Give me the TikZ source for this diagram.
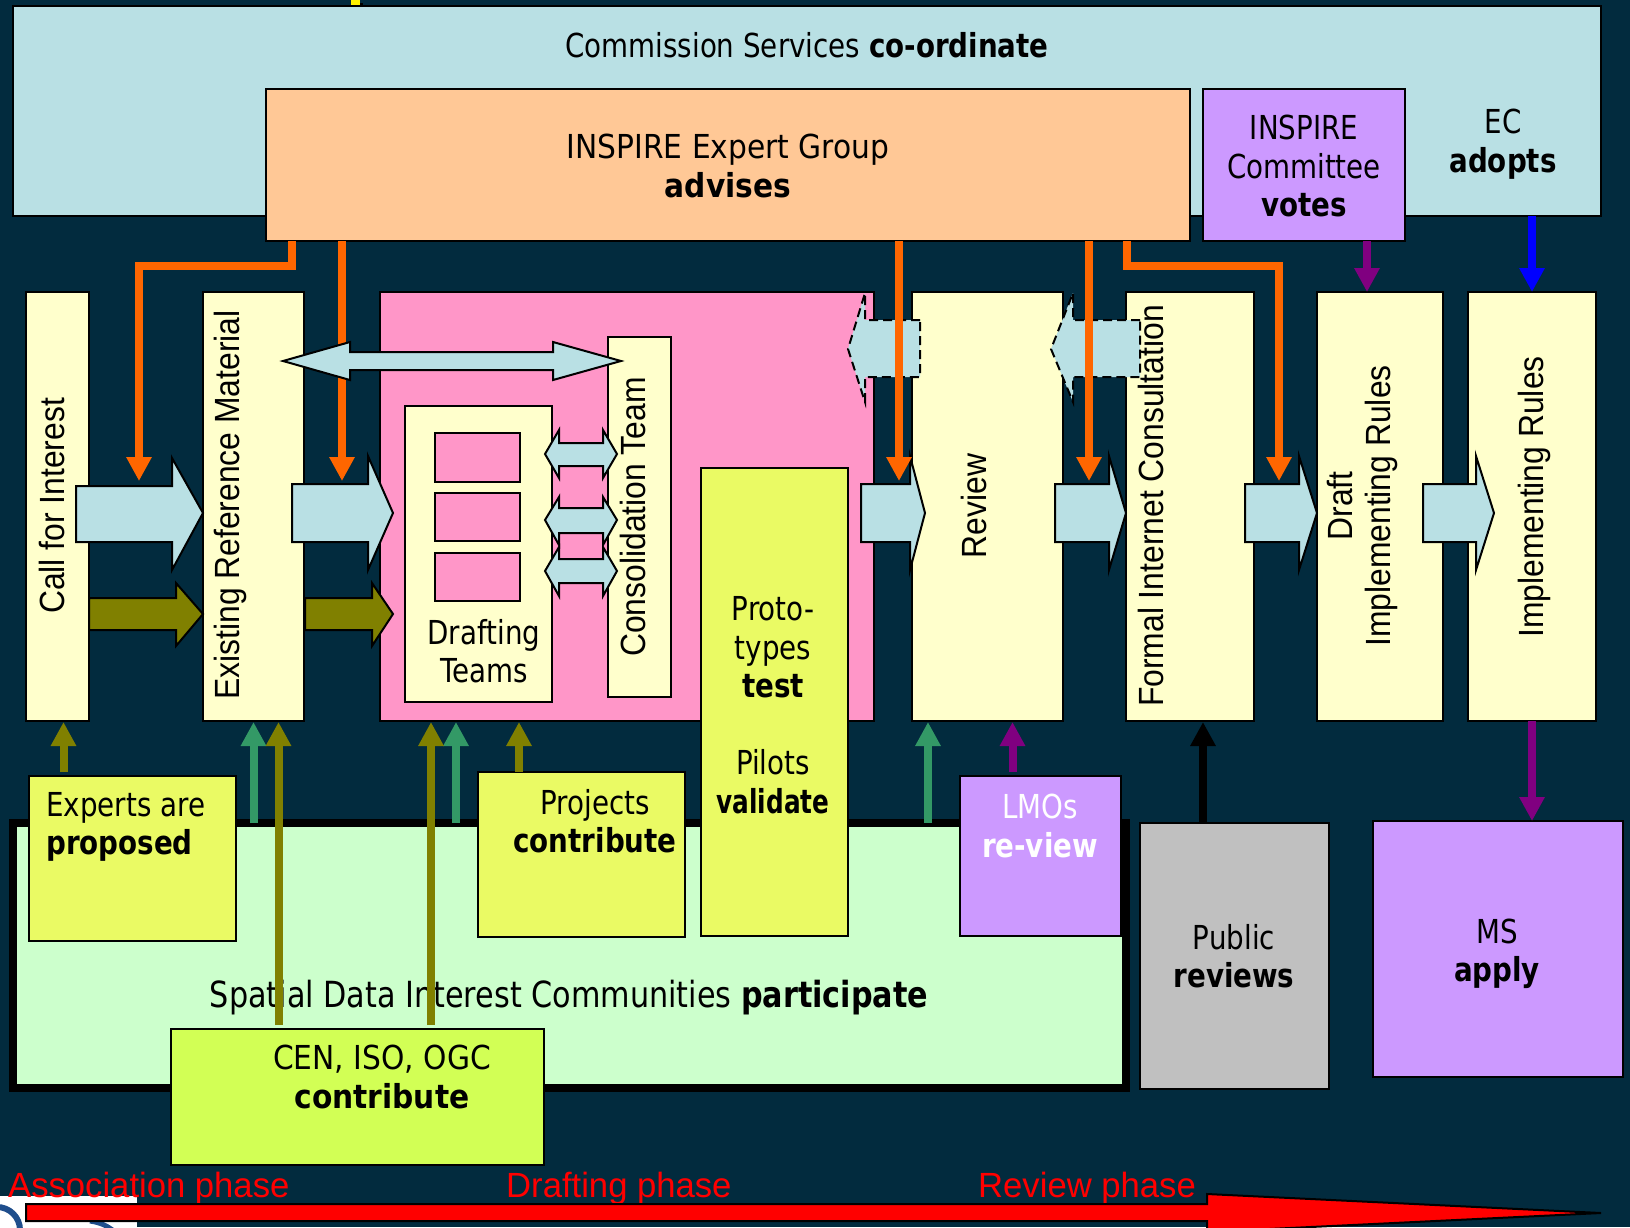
\documentclass[tikz,border=0pt]{standalone}
\usepackage{fontspec}
\setmainfont[FakeStretch=0.84]{DejaVu Sans}
\newfontfamily\roomyfont[FakeStretch=0.9]{DejaVu Sans}
\newfontfamily\tightfont[FakeStretch=0.75]{DejaVu Sans}
\newfontfamily\sidefont[FakeStretch=0.91]{Liberation Sans}
\newfontfamily\phasefont[FakeStretch=0.99]{Liberation Sans}
\usetikzlibrary{arrows.meta}
\definecolor{navybg}{HTML}{022B3E}
\definecolor{paleblue}{HTML}{B9E0E4}
\definecolor{peach}{HTML}{FFC896}
\definecolor{lilac}{HTML}{CC99FF}
\definecolor{cream}{HTML}{FFFFCC}
\definecolor{rosepink}{HTML}{FF96C8}
\definecolor{lemon}{HTML}{EAFA64}
\definecolor{lime}{HTML}{D2FF55}
\definecolor{mint}{HTML}{CCFFCC}
\definecolor{silver}{HTML}{C0C0C0}
\definecolor{leaf}{HTML}{339966}
\definecolor{darkolive}{HTML}{808000}
\definecolor{plum}{HTML}{800080}
\definecolor{signal}{HTML}{FF6600}
\definecolor{logoblue}{HTML}{1F4E8C}
\tikzset{
  areabox/.style={draw=black,line width=2pt,anchor=north west,inner sep=0pt,outer sep=0pt},
  flatlabel/.style={font=\fontsize{33}{38.5}\selectfont,align=center,inner sep=0pt},
  sidelabel/.style={font=\sidefont\fontsize{35}{38}\selectfont,align=center,inner sep=0pt,rotate=90},
  phaselabel/.style={font=\phasefont\fontsize{35}{40}\selectfont,text=red,anchor=west,inner sep=0pt},
  blockarrow/.style={draw=black,line width=2pt,fill=paleblue,line join=miter},
  olivearrow/.style={draw=black,line width=2pt,fill=darkolive},
  ghostarrow/.style={draw=black,line width=2pt,dashed,dash pattern=on 9pt off 5pt,fill=paleblue},
  flow/.style={line width=8pt,-{Triangle[length=24pt,width=24pt]}}
}
\begin{document}
\begin{tikzpicture}[x=1pt,y=-1pt]
  \useasboundingbox (0,0) rectangle (1630,1227);
  \fill[navybg] (0,0) rectangle (1630,1227);
  \fill[black] (352,3) rectangle (363,11);
  \fill[yellow] (351,0) rectangle (360,6);

  \node[areabox,fill=paleblue,minimum width=1588pt,minimum height=210pt] (commission) at (13,6) {};
  \node[flatlabel] (commissiontext) at (807,45) {Commission Services \textbf{co-ordinate}};
  \node[areabox,fill=peach,minimum width=924pt,minimum height=152pt] (expert) at (266,89) {};
  \node[flatlabel,font=\roomyfont\fontsize{33}{38.5}\selectfont] (experttext) at (728,166) {INSPIRE Expert Group\\\textbf{advises}};
  \node[areabox,fill=lilac,minimum width=202pt,minimum height=152pt] (committee) at (1203,89) {};
  \node[flatlabel] (committeetext) at (1304,166) {INSPIRE\\Committee\\\textbf{votes}};
  \node[flatlabel] (ectext) at (1503,144) {EC\\\textbf{adopts}};

  \node[areabox,fill=cream,minimum width=63pt,minimum height=429pt] (call) at (26,292) {};
  \node[areabox,fill=cream,minimum width=101pt,minimum height=429pt] (existing) at (203,292) {};
  \node[areabox,fill=rosepink,minimum width=494pt,minimum height=429pt] (drafting) at (380,292) {};
  \node[areabox,fill=cream,minimum width=63pt,minimum height=360pt] (consolidation) at (608,337) {};
  \node[areabox,fill=cream,minimum width=147pt,minimum height=296pt] (teams) at (405,406) {};
  \node[areabox,fill=rosepink,minimum width=85pt,minimum height=49pt] (teama) at (435,433) {};
  \node[areabox,fill=rosepink,minimum width=85pt,minimum height=48pt] (teamb) at (435,493) {};
  \node[areabox,fill=rosepink,minimum width=85pt,minimum height=48pt] (teamc) at (435,553) {};
  \node[flatlabel] (teamstext) at (484,651) {Drafting\\Teams};
  \node[areabox,fill=cream,minimum width=151pt,minimum height=429pt] (review) at (912,292) {};
  \node[areabox,fill=cream,minimum width=128pt,minimum height=429pt] (formal) at (1126,292) {};
  \node[areabox,fill=cream,minimum width=126pt,minimum height=429pt] (draftrules) at (1317,292) {};
  \node[areabox,fill=cream,minimum width=128pt,minimum height=429pt] (rules) at (1468,292) {};

  \node[areabox,line width=7.5pt,fill=mint,minimum width=1113pt,minimum height=265pt] (sdic) at (13,823) {};
  \node[flatlabel,font=\fontsize{36}{40}\selectfont] (sdictext) at (569,998) {Spatial Data Interest Communities \textbf{participate}};
  \node[areabox,fill=lemon,minimum width=207pt,minimum height=165pt] (experts) at (29,776) {};
  \node[flatlabel,align=left,anchor=west] (expertstext) at (46,827) {Experts are\\\textbf{proposed}};
  \node[areabox,fill=lemon,minimum width=207pt,minimum height=165pt] (projects) at (478,772) {};
  \node[flatlabel] (projectstext) at (595,821) {Projects\\\textbf{contribute}};
  \node[areabox,fill=lemon,minimum width=147pt,minimum height=468pt] (proto) at (701,468) {};
  \node[flatlabel] (prototext) at (773,705) {Proto-\\types\\\textbf{test}\\[38.5pt]Pilots\\{\tightfont\bfseries validate}};
  \node[areabox,fill=lilac,minimum width=161pt,minimum height=160pt] (lmos) at (960,776) {};
  \node[flatlabel,text=white] (lmostext) at (1040,826) {LMOs\\\textbf{re-view}};
  \node[areabox,fill=silver,minimum width=189pt,minimum height=266pt] (public) at (1140,823) {};
  \node[flatlabel] (publictext) at (1234,956) {Public\\\textbf{reviews}};
  \node[areabox,fill=lilac,minimum width=250pt,minimum height=256pt] (ms) at (1373,821) {};
  \node[flatlabel] (mstext) at (1497,954) {MS\\\textbf{apply}};
  \node[areabox,fill=lime,minimum width=373pt,minimum height=136pt] (cen) at (171,1029) {};
  \node[flatlabel,font=\roomyfont\fontsize{33}{38.5}\selectfont] (centext) at (382,1077) {CEN, ISO, OGC\\\textbf{contribute}};

  \node[sidelabel] (calltext) at (52,506) {Call for Interest};
  \node[sidelabel] (existingtext) at (230,505) {Existing Reference Material};
  \node[sidelabel] (consolidationtext) at (633,517) {Consolidation Team};
  \node[sidelabel] (reviewtext) at (974,506) {Review};
  \node[sidelabel] (formaltext) at (1151,506) {Formal Internet Consultation};
  \node[sidelabel] (draftrulestext) at (1362,506) {Draft\\Implementing Rules};
  \node[sidelabel] (rulestext) at (1534,497) {Implementing Rules};

  \draw[blockarrow] (76,486) -- (172,486) -- (172,458) -- (203,513) -- (172,570) -- (172,542) -- (76,542) -- cycle;
  \draw[blockarrow] (292,484) -- (368,484) -- (368,456) -- (393,513) -- (368,570) -- (368,542) -- (292,542) -- cycle;
  \draw[blockarrow] (861,484) -- (910,484) -- (910,456) -- (925,513) -- (910,570) -- (910,542) -- (861,542) -- cycle;
  \draw[blockarrow] (1055,484) -- (1109,484) -- (1109,456) -- (1126,513) -- (1109,570) -- (1109,542) -- (1055,542) -- cycle;
  \draw[blockarrow] (1245,484) -- (1299,484) -- (1299,456) -- (1317,513) -- (1299,570) -- (1299,542) -- (1245,542) -- cycle;
  \draw[blockarrow] (1423,484) -- (1476,484) -- (1476,456) -- (1494,513) -- (1476,570) -- (1476,542) -- (1423,542) -- cycle;
  \draw[olivearrow] (89,598) -- (176,598) -- (176,583) -- (203,614) -- (176,646) -- (176,630) -- (89,630) -- cycle;
  \draw[olivearrow] (305,598) -- (372,598) -- (372,583) -- (393,614) -- (372,646) -- (372,630) -- (305,630) -- cycle;
  \draw[ghostarrow] (920,320) -- (865,320) -- (865,293) -- (848,349) -- (865,402) -- (865,377) -- (920,377) -- cycle;
  \draw[ghostarrow] (1140,320) -- (1073,320) -- (1073,293) -- (1051,349) -- (1073,402) -- (1073,377) -- (1140,377) -- cycle;

  \coordinate (orangea) at (139,481);
  \coordinate (orangeb) at (342,481);
  \coordinate (orangec) at (899,481);
  \coordinate (oranged) at (1089,481);
  \coordinate (orangee) at (1279,481);
  \begin{scope}[flow,signal]
    \draw ([xshift=-436pt]expert.south) -- (292,266) -- (139,266) -- (orangea);
    \draw (expert.south -| orangeb) to (orangeb);
    \draw (expert.south -| orangec) to (orangec);
    \draw (expert.south -| oranged) to (oranged);
    \draw ([xshift=399pt]expert.south) -- (1127,266) -- (1279,266) -- (orangee);
  \end{scope}

  \draw[blockarrow] (283,361) -- (350,342) -- (350,352) -- (553,352) -- (553,342) -- (621,361) -- (553,380) -- (553,370) -- (350,370) -- (350,380) -- cycle;
  \draw[blockarrow] (545,454) -- (559,430) -- (559,443) -- (603,443) -- (603,430) -- (617,454) -- (603,478) -- (603,466) -- (559,466) -- (559,478) -- cycle;
  \draw[blockarrow] (545,520) -- (559,497) -- (559,508) -- (603,508) -- (603,497) -- (617,520) -- (603,545) -- (603,533) -- (559,533) -- (559,545) -- cycle;
  \draw[blockarrow] (545,571) -- (559,547) -- (559,559) -- (603,559) -- (603,547) -- (617,571) -- (603,596) -- (603,583) -- (559,583) -- (559,596) -- cycle;

  \coordinate (purpletop) at (1367,292);
  \coordinate (bluetop) at (1532,292);
  \coordinate (purplelow) at (1532,821);
  \coordinate (purplelmo) at (1012.5,722);
  \coordinate (blackpublic) at (1203,722);
  \coordinate (leafa) at (928,722);
  \coordinate (leafb) at (253.5,722);
  \coordinate (leafc) at (456,722);
  \coordinate (olivea) at (63.5,722);
  \coordinate (oliveb) at (278.5,722);
  \coordinate (olivec) at (431,722);
  \coordinate (olived) at (519,722);
  \draw[flow,plum] (committee.south -| purpletop) to (purpletop);
  \draw[flow,blue] (commission.south -| bluetop) to (bluetop);
  \draw[flow,plum] (rules.south -| purplelow) to (purplelow);
  \draw[flow,plum] ([yshift=4pt]lmos.north -| purplelmo) to (purplelmo);
  \draw[flow,black] (public.north -| blackpublic) to (blackpublic);
  \draw[flow,leaf] (sdic.north -| leafa) to (leafa);
  \draw[flow,leaf] (sdic.north -| leafb) to (leafb);
  \draw[flow,leaf] (sdic.north -| leafc) to (leafc);
  \draw[flow,darkolive] ([yshift=4pt]experts.north -| olivea) to (olivea);
  \draw[flow,darkolive] ([yshift=4pt]cen.north -| oliveb) to (oliveb);
  \draw[flow,darkolive] ([yshift=4pt]cen.north -| olivec) to (olivec);
  \draw[flow,darkolive] (projects.north -| olived) to (olived);

  \fill[white] (0,1196) rectangle (137,1227);
  \begin{scope}
    \clip (0,1196) rectangle (137,1227);
    \draw[logoblue,line width=6pt] (-3,1230) circle (23);
    \draw[logoblue,line width=5pt] (90,1221) to[bend left=15] (115,1232);
  \end{scope}
  \node[phaselabel] (association) at (8,1188) {Association phase};
  \node[phaselabel] (draftingphase) at (506,1188) {Drafting phase};
  \node[phaselabel] (reviewphase) at (978,1188) {Review phase};
  \draw[draw=black,line width=2pt,fill=red] (26,1204) -- (1207,1204) -- (1207,1194) -- (1601,1213) -- (1207,1232) -- (1207,1221) -- (26,1221) -- cycle;
\end{tikzpicture}
\end{document}
